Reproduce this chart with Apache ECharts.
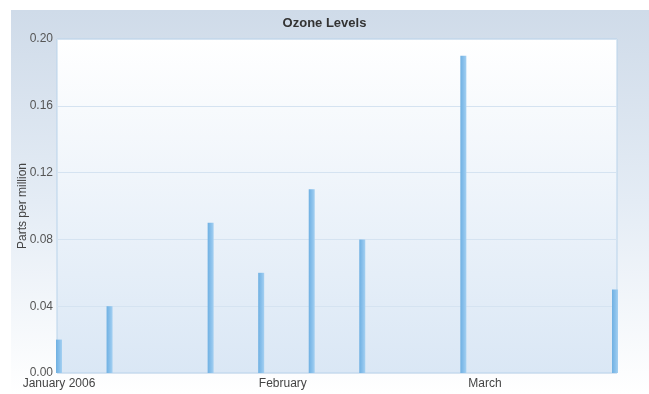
<!DOCTYPE html>
<html>
<head>
<meta charset="utf-8">
<script src="https://cdn.jsdelivr.net/npm/echarts@6/dist/echarts.min.js"></script>
<style>
  html, body { margin: 0; padding: 0; background: #ffffff; }
  #chart { width: 649px; height: 394px; }
</style>
</head>
<body>
<div id="chart"></div>
<script>
// Weekly ozone readings (parts per million)
const sampleDates = ['2006-01-01', '2006-01-08', '2006-01-22', '2006-01-29',
                     '2006-02-05', '2006-02-12', '2006-02-26', '2006-03-19'];
const ozoneValues = [0.02, 0.04, 0.09, 0.06, 0.11, 0.08, 0.19, 0.05];

// Month labels along the date axis
const monthDates = ['2006-01-01', '2006-02-01', '2006-03-01'];
const monthLabels = ['January 2006', 'February', 'March'];

// Value axis ticks
const yMin = 0, yMax = 0.20, yStep = 0.04;

const DAY = 24 * 3600 * 1000;
function toTime(s) {
  const p = s.split('-').map(Number);
  return Date.UTC(p[0], p[1] - 1, p[2]);
}

const monthTimes = monthDates.map(toTime);
const firstTime = toTime(sampleDates[0]);
const lastTime = toTime(sampleDates[sampleDates.length - 1]);

const chart = echarts.init(document.getElementById('chart'), null, { renderer: 'canvas' });

chart.setOption({
  animation: false,
  backgroundColor: '#ffffff',
  textStyle: { fontFamily: '"Liberation Sans", Arial, sans-serif' },
  graphic: [{
    type: 'rect',
    z: -10,
    silent: true,
    shape: { x: 11, y: 10, width: 638, height: 384 },
    style: {
      fill: new echarts.graphic.LinearGradient(0, 0, 0, 1, [
        { offset: 0, color: '#cfdbe9' },
        { offset: 0.5, color: '#e4ecf5' },
        { offset: 1, color: '#ffffff' }
      ])
    }
  }],
  title: {
    text: 'Ozone Levels',
    left: 'center',
    top: 12,
    textStyle: {
      fontSize: 13,
      fontWeight: 'bold',
      color: '#333333',
      fontFamily: '"Liberation Sans", Arial, sans-serif'
    }
  },
  grid: {
    left: 57,
    right: 32,
    top: 39,
    bottom: 21,
    containLabel: false,
    outerBoundsMode: 'none',
    show: true,
    borderColor: '#b9d3ea',
    borderWidth: 1,
    backgroundColor: new echarts.graphic.LinearGradient(0, 0, 0, 1, [
      { offset: 0, color: '#ffffff' },
      { offset: 1, color: '#dae7f5' }
    ])
  },
  xAxis: {
    type: 'value',
    min: firstTime - 0.28 * DAY,
    max: lastTime + 0.28 * DAY,
    axisLine: { show: false },
    axisTick: { show: false },
    splitLine: { show: false },
    axisLabel: {
      customValues: monthTimes,
      margin: 5,
      fontSize: 12,
      color: '#444444',
      hideOverlap: false,
      formatter: function (v) {
        let best = 0;
        for (let k = 1; k < monthTimes.length; k++) {
          if (Math.abs(monthTimes[k] - v) < Math.abs(monthTimes[best] - v)) best = k;
        }
        return monthLabels[best];
      }
    }
  },
  yAxis: {
    type: 'value',
    min: yMin,
    max: yMax,
    interval: yStep,
    name: 'Parts per million',
    nameLocation: 'middle',
    nameGap: 28,
    nameMoveOverlap: false,
    nameTextStyle: { fontSize: 12, color: '#444444' },
    axisLine: { show: false },
    axisTick: { show: false },
    axisLabel: {
      fontSize: 12,
      color: '#555555',
      margin: 4,
      formatter: function (v) { return v.toFixed(2); }
    },
    splitLine: { lineStyle: { color: '#d5e3f1', width: 1 } }
  },
  series: [{
    type: 'bar',
    barWidth: 6,
    data: sampleDates.map(function (d, i) { return [toTime(d), ozoneValues[i]]; }),
    itemStyle: {
      color: new echarts.graphic.LinearGradient(0, 0, 1, 0, [
        { offset: 0, color: '#6fb0e2' },
        { offset: 0.6, color: '#8cc2ec' },
        { offset: 1, color: '#a5d0f1' }
      ])
    }
  }]
});
</script>
</body>
</html>
